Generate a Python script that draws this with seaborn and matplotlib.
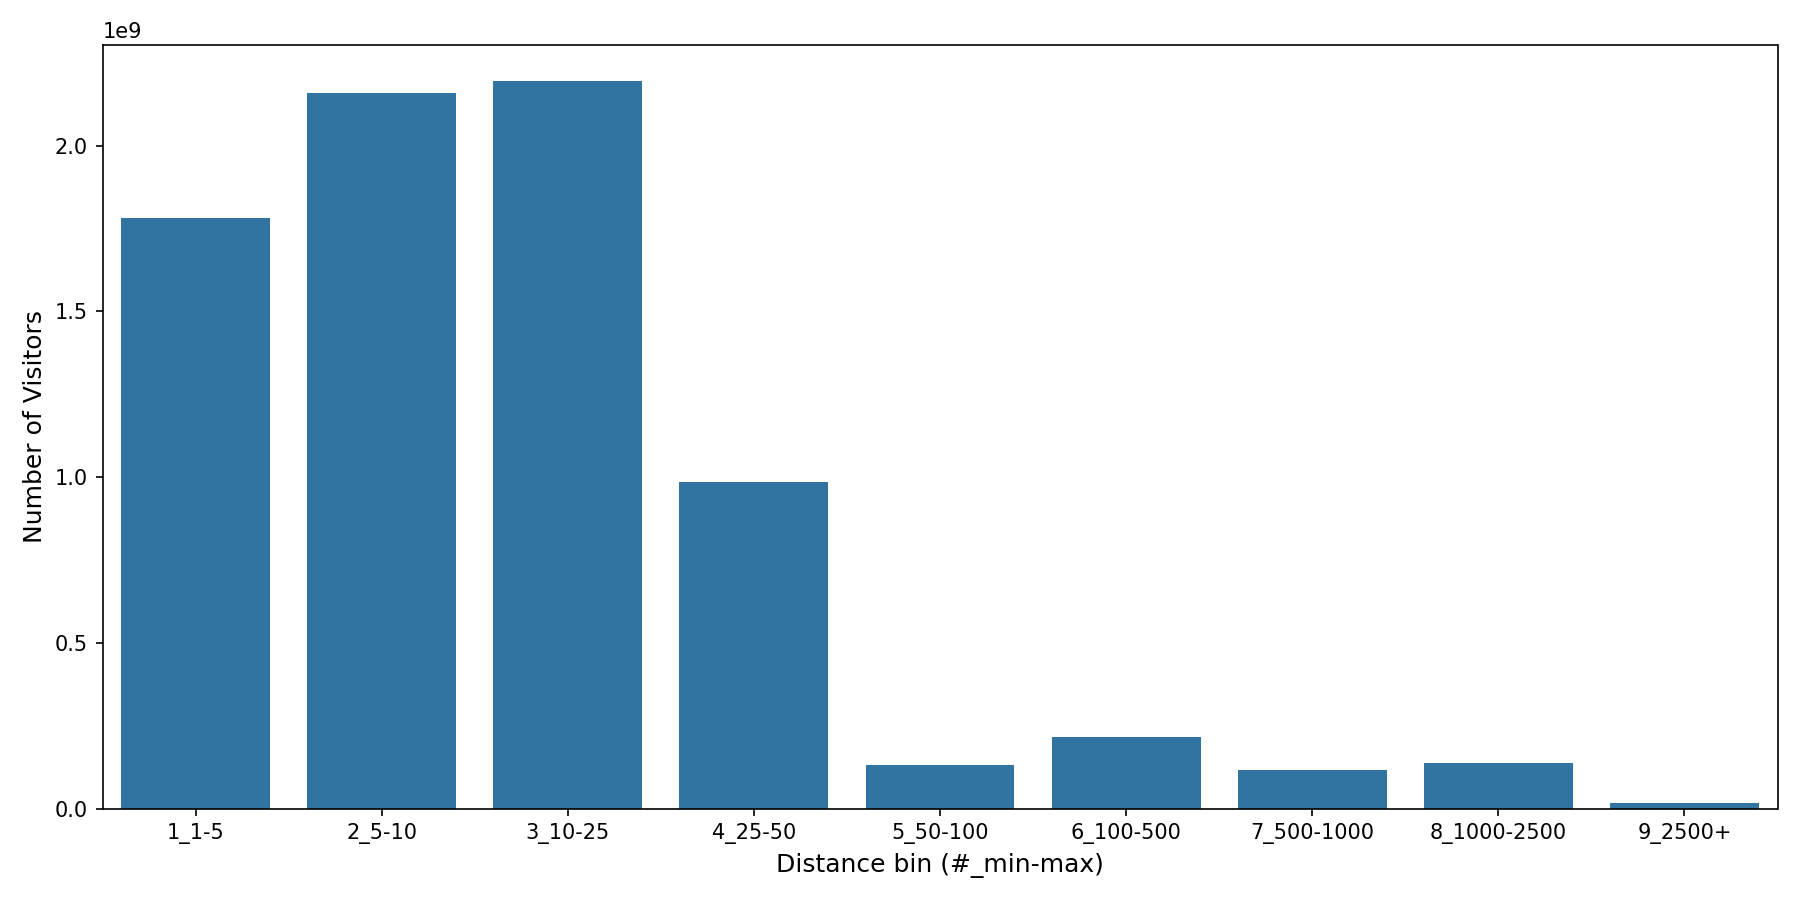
import matplotlib
matplotlib.use("Agg")
import matplotlib.pyplot as plt
import seaborn as sns
import pandas as pd

categories = ["1_1-5", "2_5-10", "3_10-25", "4_25-50", "5_50-100",
              "6_100-500", "7_500-1000", "8_1000-2500", "9_2500+"]
visitors = [1.781e9, 2.160e9, 2.195e9, 0.984e9, 0.132e9,
            0.216e9, 0.115e9, 0.139e9, 0.017e9]

plt.rcParams['font.family'] = ['DejaVu Sans']

df = pd.DataFrame({"bin": categories, "visitors": visitors})

fig, ax = plt.subplots(figsize=(12, 6), dpi=150)
sns.barplot(data=df, x="bin", y="visitors", ax=ax, color="#1f77b4")
ax.set_xlabel("Distance bin (#_min-max)", fontsize=12)
ax.set_ylabel("Number of Visitors", fontsize=12)
fig.tight_layout()
fig.savefig("out.png", dpi=150)
